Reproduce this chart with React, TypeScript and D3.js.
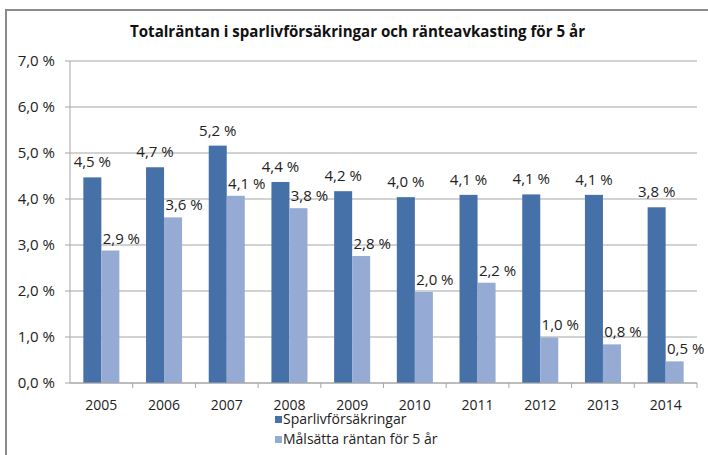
import React from "react";
import * as d3 from "d3";

const years = ["2005", "2006", "2007", "2008", "2009", "2010", "2011", "2012", "2013", "2014"];
const sparliv = [4.47, 4.69, 5.16, 4.37, 4.17, 4.04, 4.09, 4.1, 4.09, 3.82];
const malsatta = [2.88, 3.6, 4.07, 3.8, 2.76, 1.98, 2.18, 0.99, 0.84, 0.47];
const sparlivLabels = ["4,5 %", "4,7 %", "5,2 %", "4,4 %", "4,2 %", "4,0 %", "4,1 %", "4,1 %", "4,1 %", "3,8 %"];
const malsattaLabels = ["2,9 %", "3,6 %", "4,1 %", "3,8 %", "2,8 %", "2,0 %", "2,2 %", "1,0 %", "0,8 %", "0,5 %"];
const yTicks = [0, 1, 2, 3, 4, 5, 6, 7];
const seriesNames = ["Sparlivförsäkringar", "Målsätta räntan för 5 år"];
const title = "Totalräntan i sparlivförsäkringar och ränteavkasting för 5 år";

const W = 708;
const H = 455;
const left = 70;
const right = 697;
const top = 61;
const bottom = 383;
const colors = ["#4671A8", "#95ABD3"];
const font = "'Open Sans', 'Liberation Sans', sans-serif";

export default function App() {
  const x = d3.scaleBand<string>().domain(years).range([left, right]).padding(0);
  const x1 = d3
    .scaleBand<string>()
    .domain(["a", "b"])
    .range([0, x.bandwidth()])
    .paddingInner(0)
    .paddingOuter(0.74);
  const y = d3.scaleLinear().domain([0, 7]).range([bottom, top]);
  const fmt = (v: number) => d3.format(".1f")(v).replace(".", ",") + " %";

  const series = [
    { key: "a", values: sparliv, labels: sparlivLabels, color: colors[0], dx: 0, dy: -10 },
    { key: "b", values: malsatta, labels: malsattaLabels, color: colors[1], dx: 11, dy: -7 },
  ];

  return (
    <svg
      width={W}
      height={H}
      style={{ position: "absolute", left: 0, top: 0, background: "#fff" }}
      fontFamily={font}
    >
      <rect x={0} y={0} width={W} height={H} fill="#fff" />
      <rect x={6} y={10} width={720} height={470} fill="none" stroke="#8a8a8a" strokeWidth={2} />
      <text
        x={(130 + 585) / 2}
        y={37}
        textAnchor="middle"
        fontSize={16}
        fontWeight="bold"
        fill="#111"
        textLength={455}
        lengthAdjust="spacingAndGlyphs"
      >
        {title}
      </text>
      {yTicks.map((t) => (
        <g key={t}>
          <line x1={left - 5} x2={right} y1={y(t)} y2={y(t)} stroke="#a6a6a6" strokeWidth={1} />
          <text x={55} y={y(t) + 5} textAnchor="end" fontSize={15} fill="#222">
            {fmt(t)}
          </text>
        </g>
      ))}
      <line x1={left} x2={left} y1={top} y2={bottom} stroke="#a6a6a6" strokeWidth={1} />
      {series.map((s) => (
        <g key={s.key}>
          {s.values.map((v, i) => (
            <rect
              key={i}
              x={(x(years[i]) as number) + (x1(s.key) as number)}
              y={y(v)}
              width={x1.bandwidth()}
              height={bottom - y(v)}
              fill={s.color}
            />
          ))}
        </g>
      ))}
      <line x1={left} x2={right} y1={bottom} y2={bottom} stroke="#a6a6a6" strokeWidth={1} />
      {years.map((yr, i) => (
        <line
          key={"tk" + i}
          x1={(x(yr) as number) + x.bandwidth()}
          x2={(x(yr) as number) + x.bandwidth()}
          y1={bottom}
          y2={bottom + 5}
          stroke="#a6a6a6"
        />
      ))}
      {years.map((yr) => (
        <text
          key={"xl" + yr}
          x={(x(yr) as number) + x.bandwidth() / 2}
          y={410}
          textAnchor="middle"
          fontSize={14}
          fill="#222"
        >
          {yr}
        </text>
      ))}
      {series.map((s) =>
        s.values.map((v, i) => (
          <text
            key={s.key + "l" + i}
            x={(x(years[i]) as number) + (x1(s.key) as number) + x1.bandwidth() / 2 + s.dx}
            y={y(v) + s.dy}
            textAnchor="middle"
            fontSize={15}
            fill="#222"
          >
            {s.labels[i]}
          </text>
        ))
      )}
      {seriesNames.map((n, i) => (
        <g key={n} transform={`translate(275, ${416 + i * 20})`}>
          <rect x={0} y={0} width={7} height={7} fill={colors[i]} />
          <text x={8} y={8} fontSize={14} fill="#222">
            {n}
          </text>
        </g>
      ))}
    </svg>
  );
}
